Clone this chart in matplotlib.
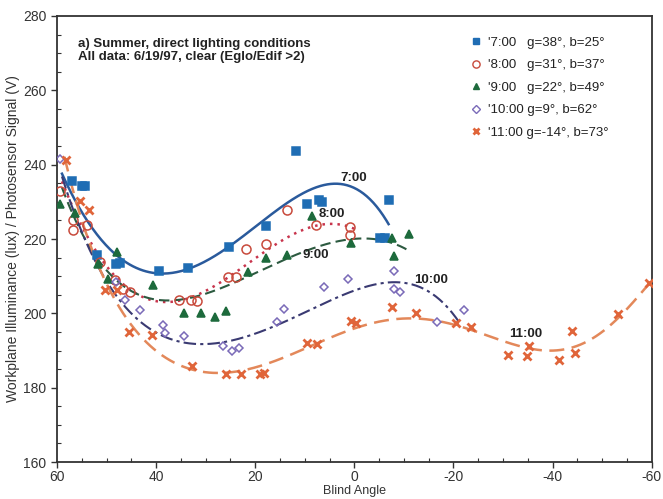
import numpy as np
import matplotlib
matplotlib.use('Agg')
from matplotlib import pyplot as plt
from matplotlib.lines import Line2D
from matplotlib.ticker import MultipleLocator

plt.rcParams['font.family'] = ['Liberation Sans', 'DejaVu Sans']
plt.rcParams['axes.unicode_minus'] = False

# measured points (blind angle, workplane illuminance)
x7 = [57.0, 55.0, 54.4, 52.0, 48.0, 47.3, 39.5, 33.5, 25.2, 17.8, 11.8, 9.6, 7.1, 6.5, -5.2, -6.2, -6.9]
y7 = [235.6, 234.3, 234.3, 215.6, 213.2, 213.5, 211.5, 212.2, 217.8, 223.6, 243.6, 229.5, 230.5, 230.0, 220.4, 220.4, 230.5]

x8 = [59.4, 56.8, 56.8, 54.0, 51.4, 48.3, 46.7, 45.3, 35.3, 32.9, 31.7, 25.6, 23.8, 21.8, 17.8, 13.6, 7.7, 0.9, 0.9]
y8 = [232.9, 225.2, 222.5, 223.7, 213.8, 209.0, 206.6, 205.8, 203.7, 203.7, 203.4, 209.8, 209.8, 217.2, 218.6, 227.9, 223.9, 223.3, 221.2]

x9 = [59.4, 56.4, 51.8, 49.7, 47.8, 40.7, 34.3, 30.9, 28.2, 26.0, 21.4, 17.8, 13.6, 8.5, 0.7, -7.5, -8.0, -11.0]
y9 = [229.4, 227.0, 213.2, 209.3, 216.4, 207.7, 200.0, 200.0, 199.1, 200.7, 211.1, 214.8, 215.6, 226.3, 219.0, 220.2, 215.4, 221.3]

x10 = [59.4, 48.0, 46.3, 43.3, 38.7, 38.3, 34.3, 26.6, 24.6, 23.2, 15.6, 14.2, 6.1, 1.3, -8.0, -8.0, -9.3, -16.6, -22.2]
y10 = [241.4, 208.5, 203.7, 201.0, 197.0, 194.6, 193.8, 191.2, 190.0, 190.6, 197.8, 201.3, 207.1, 209.3, 211.4, 206.6, 205.8, 197.8, 201.0]

x11 = [58.2, 55.4, 53.6, 50.3, 47.9, 45.5, 40.9, 32.8, 26.0, 22.8, 19.0, 18.2, 9.5, 7.5, 0.6, -0.3, -7.6, -12.4,
       -20.6, -23.6, -30.9, -34.9, -35.3, -41.3, -43.9, -44.5, -53.2, -59.4]
y11 = [241.2, 230.2, 227.9, 206.4, 206.3, 194.9, 194.1, 185.9, 183.7, 183.7, 183.6, 184.0, 192.0, 191.7, 198.0, 197.5, 201.7, 200.2,
       197.3, 196.2, 188.8, 188.5, 191.2, 187.4, 195.2, 189.3, 199.7, 208.2]

# fitted curves
cx7 = [59, 55, 51.4, 48, 44, 38, 32.7, 25.2, 17.8, 10.2, 4.7, -0.5, -4.5, -6.9]
cy7 = [237, 228.5, 220.4, 214.8, 211.8, 211, 212.8, 218, 225.5, 232.5, 234.3, 233.7, 229.2, 223.6]

cx8 = [59, 55, 49.3, 42.7, 37.9, 32.7, 25.8, 19.2, 15.2, 12.8, 7.5, 2.7, 0]
cy8 = [235, 225, 209.8, 205, 203.7, 203.9, 209.3, 215.9, 219.1, 220.4, 224.2, 223.6, 222.8]

cx9 = [59, 55, 51.4, 46, 39.3, 35, 31.3, 23.2, 19.2, 15.2, 12.8, 5, 0, -5, -11]
cy9 = [234, 222, 212.4, 207.7, 204.5, 203.6, 203.9, 208.5, 211.6, 213.8, 215.5, 219, 220, 219.5, 217]

cx10 = [59, 55, 49.3, 42.7, 34.7, 28.6, 21.2, 13.2, 5, -2.9, -7.3, -12.4, -17, -21]
cy10 = [237, 222, 206.3, 197.3, 193.3, 192.2, 193.3, 197, 204, 208.5, 208.7, 206.6, 203.1, 198.6]

cx11 = [58.5, 55, 52.8, 46.9, 43.5, 39.3, 33.9, 29.2, 23.2, 15.8, 9.1, 5.1, -1.5, -8.3, -15, -21.6,
        -29.6, -37.7, -43.1, -49.7, -55.2, -59.4]
cy11 = [242, 229, 210.6, 202, 196, 189.3, 185, 183.7, 184, 186.4, 191.2, 194.6, 197.3, 198.1, 197.6, 196,
        192.8, 190.6, 190.9, 194.4, 201, 208.2]

labels = ["'7:00   g=38\u00b0, b=25\u00b0", "'8:00   g=31\u00b0, b=37\u00b0", "'9:00   g=22\u00b0, b=49\u00b0",
          "'10:00 g=9\u00b0, b=62\u00b0", "'11:00 g=-14\u00b0, b=73\u00b0"]
curveNames = ['7:00', '8:00', '9:00', '10:00', '11:00']


def smooth(cx, cy, deg):
  p = np.polyfit(cx, cy, deg)
  xs = np.linspace(max(cx), min(cx), 300)
  return xs, np.polyval(p, xs)


fig = plt.figure(figsize=(6.63, 4.99), dpi=100)
ax = fig.add_axes([0.086, 0.074, 0.897, 0.894])

styles = [
  dict(mk='s', mfc='#1f6db4', mec='#1f6db4', ms=6, lc='#2a5a9c', ls='-', lw=1.8, deg=5),
  dict(mk='o', mfc='none', mec='#c84a3c', ms=6.5, lc='#c8344c', ls=(0, (1, 2)), lw=1.8, deg=5),
  dict(mk='^', mfc='#1d6a3c', mec='#1d6a3c', ms=6, lc='#2c5a40', ls=(0, (5, 2.5)), lw=1.5, deg=5),
  dict(mk='D', mfc='none', mec='#7a6ab8', ms=4.5, lc='#3a3a72', ls=(0, (6, 2, 1.5, 2)), lw=1.5, deg=5),
  dict(mk='x', mfc='#e0653a', mec='#e0653a', ms=5.5, lc='#e3885a', ls=(0, (6, 3)), lw=1.8, deg=7),
]
data = [(x7, y7, cx7, cy7), (x8, y8, cx8, cy8), (x9, y9, cx9, cy9), (x10, y10, cx10, cy10), (x11, y11, cx11, cy11)]

handles = []
for (xd, yd, cx, cy), st, lab in zip(data, styles, labels):
  xs, ys = smooth(cx, cy, st['deg'])
  ax.plot(xs, ys, color=st['lc'], linestyle=st['ls'], linewidth=st['lw'], zorder=2)
  ax.plot(xd, yd, linestyle='none', marker=st['mk'], mfc=st['mfc'], mec=st['mec'], ms=st['ms'],
          mew=2 if st['mk'] == 'x' else 1.1, zorder=3)
  handles.append(Line2D([], [], linestyle='none', marker=st['mk'], mfc=st['mfc'], mec=st['mec'],
                        ms=st['ms'] * 0.8, mew=2 if st['mk'] == 'x' else 1.0, label=lab))

# curve labels
for name, (tx, ty) in zip(curveNames, [(0.1, 236.4), (4.5, 226.8), (7.7, 215.6), (-15.4, 209.0), (-34.5, 194.4)]):
  ax.text(tx, ty, name, ha='center', va='center', fontsize=9.5, fontweight='bold', color='#222222')

ax.text(0.035, 0.95, 'a) Summer, direct lighting conditions\nAll data: 6/19/97, clear (Eglo/Edif >2)',
        transform=ax.transAxes, ha='left', va='top', fontsize=9.5, fontweight='bold', color='#222222',
        linespacing=1.05)

leg = ax.legend(handles=handles, loc='upper left', bbox_to_anchor=(0.676, 0.975), frameon=False,
                fontsize=9.5, labelspacing=0.78, handletextpad=0.3, handlelength=1.2, borderpad=0.2)
for t in leg.get_texts():
  t.set_color('#222222')

ax.set_xlim(60, -60)
ax.set_ylim(160, 280)
ax.xaxis.set_major_locator(MultipleLocator(20))
ax.xaxis.set_minor_locator(MultipleLocator(5))
ax.yaxis.set_major_locator(MultipleLocator(20))
ax.yaxis.set_minor_locator(MultipleLocator(5))
ax.tick_params(which='major', direction='out', length=4, width=1, labelsize=10, colors='#333333')
ax.tick_params(axis='x', which='major', pad=2)
ax.tick_params(which='minor', direction='in', length=3, width=0.8, colors='#333333')
for s in ax.spines.values():
  s.set_linewidth(1.3)
  s.set_color('#333333')

ax.set_ylabel('Workplane Illuminance (lux) / Photosensor Signal (V)', fontsize=10, color='#333333', labelpad=2)
ax.set_xlabel('Blind Angle', fontsize=9, color='#333333', va='bottom')
ax.xaxis.set_label_coords(0.5, -0.079)

fig.savefig('out.png', dpi=100)
